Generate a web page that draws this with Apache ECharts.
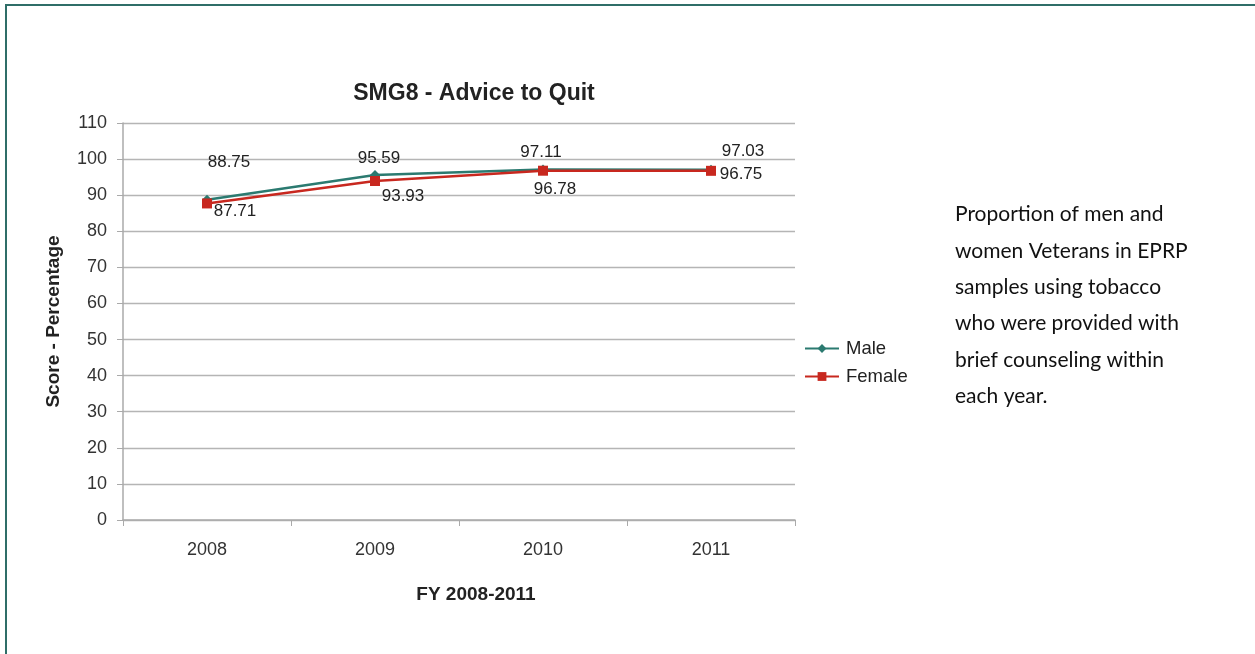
<!DOCTYPE html>
<html><head><meta charset="utf-8">
<script src="https://cdn.jsdelivr.net/npm/echarts@6/dist/echarts.min.js"></script>
<style>html,body{margin:0;padding:0;background:#fff}#c{width:1255px;height:654px}</style>
</head><body><div id="c"></div>
<script>
const categories = ['2008', '2009', '2010', '2011'];
const maleValues = [88.75, 95.59, 97.11, 97.03];
const femaleValues = [87.71, 93.93, 96.78, 96.75];
const yTicks = [0, 10, 20, 30, 40, 50, 60, 70, 80, 90, 100, 110];
const titleText = 'SMG8 - Advice to Quit';
const noteLines = ['Proportion of men and', 'women Veterans in EPRP', 'samples using tobacco', 'who were provided with', 'brief counseling within', 'each year.'];

const maleLabelOffsets = [[22, -12], [4, 9], [-2, 8], [32, 7]];
const femaleLabelOffsets = [[28, -18], [28, -10], [12, -7], [30, -22]];

const chart = echarts.init(document.getElementById('c'), null, {renderer: 'canvas'});
const font = 'Liberation Sans, Arial, sans-serif';

const noteGraphics = noteLines.map((t, i) => ({
  type: 'text', left: 955, top: 204 + i * 36.4,
  style: {text: t, font: '21px Lato, sans-serif', fill: '#111'}
}));

chart.setOption({
  animation: false,
  backgroundColor: '#fff',
  title: {text: titleText, left: 469, top: 77, textAlign: 'center',
    textStyle: {fontFamily: font, fontSize: 23, fontWeight: 'bold', color: '#222'}},
  legend: {orient: 'vertical', left: 799, top: 334, itemGap: 9, itemWidth: 34, itemHeight: 11,
    textStyle: {fontFamily: font, fontSize: 18.5, color: '#222', padding: [0, 0, 0, 2]},
    data: ['Male', 'Female']},
  grid: {left: 123, right: 460, top: 123, bottom: 134},
  xAxis: {type: 'category', data: categories, boundaryGap: true,
    name: 'FY 2008-2011', nameLocation: 'middle', nameGap: 65,
    nameTextStyle: {fontFamily: font, fontSize: 19, fontWeight: 'bold', color: '#222', padding: [0, 0, 0, 34]},
    axisLine: {lineStyle: {color: '#aaa', width: 1.5}},
    axisTick: {show: true, length: 6, alignWithLabel: false, lineStyle: {color: '#aaa'}},
    axisLabel: {fontFamily: font, fontSize: 18, color: '#333', margin: 21}},
  yAxis: {type: 'value', min: yTicks[0], max: yTicks[yTicks.length - 1], interval: 10,
    name: 'Score - Percentage', nameLocation: 'middle', nameGap: 60, nameRotate: 90,
    nameTextStyle: {fontFamily: font, fontSize: 19, fontWeight: 'bold', color: '#222'},
    axisLine: {show: true, lineStyle: {color: '#aaa', width: 1.5}},
    axisTick: {show: true, length: 6, inside: false, lineStyle: {color: '#aaa'}},
    splitLine: {lineStyle: {color: '#b5b5b5', width: 1.3}},
    axisLabel: {fontFamily: font, fontSize: 18, color: '#333', margin: 16}},
  series: [
    {name: 'Male', type: 'line', data: maleValues.map((v, i) => ({value: v,
        label: {show: true, position: 'top', offset: maleLabelOffsets[i]}})),
      symbol: 'diamond', symbolSize: 10, color: '#2b7a70',
      lineStyle: {width: 2.5, color: '#2b7a70'},
      label: {fontFamily: font, fontSize: 17, color: '#222', distance: 12}},
    {name: 'Female', type: 'line', data: femaleValues.map((v, i) => ({value: v,
        label: {show: true, position: 'bottom', offset: femaleLabelOffsets[i]}})),
      symbol: 'rect', symbolSize: 10, color: '#c8281f',
      lineStyle: {width: 2.5, color: '#c8281f'},
      label: {fontFamily: font, fontSize: 17, color: '#222', distance: 12}}
  ],
  graphic: [
    {type: 'rect', shape: {x: 6, y: 5, width: 1400, height: 800}, silent: true,
      style: {fill: 'none', stroke: '#2f6e68', lineWidth: 2}},
    ...noteGraphics
  ]
});
</script></body></html>
